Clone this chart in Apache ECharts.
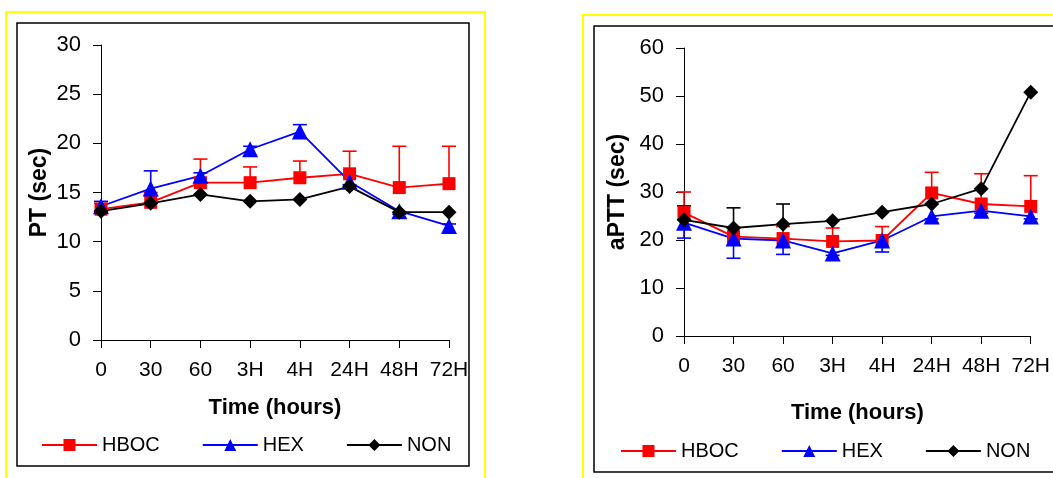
<!DOCTYPE html>
<html>
<head>
<meta charset="utf-8">
<script src="https://cdn.jsdelivr.net/npm/echarts@6/dist/echarts.min.js"></script>
<style>
  html, body { margin: 0; padding: 0; background: #fff; }
  #main { width: 1053px; height: 478px; }
</style>
</head>
<body>
<div id="main"></div>
<script>
const categories = ['0', '30', '60', '3H', '4H', '24H', '48H', '72H'];

// PT (sec)
const ptHboc = [13.3, 14.0, 16.0, 16.0, 16.5, 16.9, 15.5, 15.9];
const ptHbocErr = [13.9, 15.0, 18.4, 17.6, 18.2, 19.2, 19.7, 19.7];
const ptHex = [13.6, 15.4, 16.7, 19.4, 21.2, 16.1, 13.1, 11.6];
const ptHexErr = [14.1, 17.2, 17.0, 19.7, 21.9, 15.8, 12.8, 11.8];
const ptNon = [13.1, 13.9, 14.8, 14.1, 14.3, 15.6, 13.0, 13.0];

// aPTT (sec)
const apttHboc = [25.7, 20.7, 20.3, 19.7, 19.9, 29.8, 27.5, 27.0];
const apttHbocErr = [30.0, 22.7, 22.8, 22.5, 22.8, 34.1, 33.8, 33.4];
const apttHex = [23.6, 20.3, 19.9, 17.2, 19.9, 24.9, 26.1, 24.9];
const apttHexErr = [20.4, 16.2, 17.0, 16.8, 17.5, 24.4, 25.6, 24.4];
const apttNon = [24.2, 22.5, 23.3, 24.0, 25.8, 27.5, 30.7, 50.8];
const apttNonErr = [27.1, 26.7, 27.5, null, null, null, null, null];

const FONT = 'Liberation Sans';

function errSeries(name, idx, vals, ends, color) {
    const data = [];
    vals.forEach((v, i) => {
        if (ends[i] != null) data.push([i, v, ends[i]]);
    });
    return {
        name: name,
        type: 'custom',
        xAxisIndex: idx,
        yAxisIndex: idx,
        z: 1,
        silent: true,
        renderItem: (params, api) => {
            const p0 = api.coord([api.value(0), api.value(1)]);
            const p1 = api.coord([api.value(0), api.value(2)]);
            const w = 7;
            return {
                type: 'group',
                children: [
                    {type: 'line', shape: {x1: p0[0], y1: p0[1], x2: p1[0], y2: p1[1]},
                        style: {stroke: color, lineWidth: 1.6}},
                    {type: 'line', shape: {x1: p1[0] - w, y1: p1[1], x2: p1[0] + w, y2: p1[1]},
                        style: {stroke: color, lineWidth: 1.6}}
                ]
            };
        },
        data: data
    };
}

function lineSeries(name, idx, vals, color, symbol, size) {
    return {
        name: name,
        type: 'line',
        xAxisIndex: idx,
        yAxisIndex: idx,
        z: 3,
        data: vals,
        symbol: symbol,
        symbolSize: size,
        lineStyle: {color: color, width: 1.8},
        itemStyle: {color: color}
    };
}

function xAxis(idx, gap) {
    return {
        type: 'category',
        gridIndex: idx,
        data: categories,
        boundaryGap: false,
        name: 'Time (hours)',
        nameLocation: 'middle',
        nameGap: gap,
        nameTextStyle: {fontFamily: FONT, fontSize: 22, fontWeight: 'bold', color: '#000'},
        axisLine: {lineStyle: {color: '#000', width: 1}},
        axisTick: {show: true, alignWithLabel: true, length: 8, lineStyle: {color: '#000'}},
        axisLabel: {fontFamily: FONT, fontSize: 21, color: '#000', margin: 20, interval: 0}
    };
}

function yAxis(idx, max, interval, name, gap) {
    return {
        type: 'value',
        gridIndex: idx,
        min: 0,
        max: max,
        interval: interval,
        name: name,
        nameLocation: 'middle',
        nameGap: gap,
        nameTextStyle: {fontFamily: FONT, fontSize: 23, fontWeight: 'bold', color: '#000'},
        axisLine: {show: true, lineStyle: {color: '#000', width: 1}},
        axisTick: {show: true, length: 8, lineStyle: {color: '#000'}},
        axisLabel: {fontFamily: FONT, fontSize: 22, color: '#000', margin: 20},
        splitLine: {show: false}
    };
}

function legend(left, top) {
    return {
        left: left,
        top: top,
        padding: 0,
        itemWidth: 55,
        itemHeight: 15,
        itemGap: 42,
        data: ['HBOC', 'HEX', 'NON'],
        textStyle: {fontFamily: FONT, fontSize: 20, color: '#000'}
    };
}

let chart = echarts.init(document.getElementById('main'));
chart.setOption({
    animation: false,
    graphic: [
        {type: 'rect', shape: {x: 6, y: 12, width: 479, height: 480}, style: {fill: null, stroke: '#ffff00', lineWidth: 2}},
        {type: 'rect', shape: {x: 17, y: 23, width: 452, height: 443}, style: {fill: null, stroke: '#000', lineWidth: 1.5}},
        {type: 'rect', shape: {x: 583, y: 15, width: 480, height: 480}, style: {fill: null, stroke: '#ffff00', lineWidth: 2}},
        {type: 'rect', shape: {x: 594, y: 26, width: 470, height: 446}, style: {fill: null, stroke: '#000', lineWidth: 1.5}}
    ],
    grid: [
        {left: 101, top: 45, width: 348, height: 295},
        {left: 684, top: 48, width: 348, height: 288}
    ],
    legend: [legend(41, 435), legend(620, 441)],
    xAxis: [xAxis(0, 57), xAxis(1, 66)],
    yAxis: [yAxis(0, 30, 5, 'PT (sec)', 50), yAxis(1, 60, 10, 'aPTT (sec)', 55)],
    series: [
        errSeries('e1', 0, ptHboc, ptHbocErr, '#ff0000'),
        errSeries('e2', 0, ptHex, ptHexErr, '#0000ff'),
        lineSeries('HBOC', 0, ptHboc, '#ff0000', 'rect', 13),
        lineSeries('HEX', 0, ptHex, '#0000ff', 'triangle', 16),
        lineSeries('NON', 0, ptNon, '#000000', 'diamond', 15),
        errSeries('e3', 1, apttHboc, apttHbocErr, '#ff0000'),
        errSeries('e4', 1, apttHex, apttHexErr, '#0000ff'),
        errSeries('e5', 1, apttNon, apttNonErr, '#000000'),
        lineSeries('HBOC', 1, apttHboc, '#ff0000', 'rect', 13),
        lineSeries('HEX', 1, apttHex, '#0000ff', 'triangle', 16),
        lineSeries('NON', 1, apttNon, '#000000', 'diamond', 15)
    ]
});
</script>
</body>
</html>
